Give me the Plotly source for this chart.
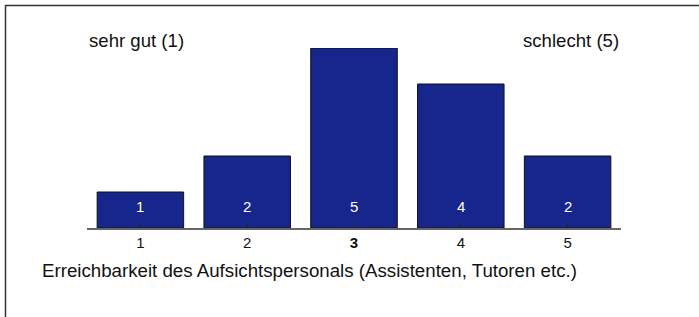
import plotly.graph_objects as go

categories = [1, 2, 3, 4, 5]
tick_labels = ["1", "2", "<b>3</b>", "4", "5"]
counts = [1, 2, 5, 4, 2]
title_text = "Erreichbarkeit des Aufsichtspersonals (Assistenten, Tutoren etc.)"
left_label = "sehr gut (1)"
right_label = "schlecht (5)"

FONT = "Liberation Sans, Arial, sans-serif"

fig = go.Figure()
fig.add_trace(go.Bar(
    x=categories, y=counts, width=0.81,
    marker=dict(color="#16268C", line=dict(color="#111111", width=1)),
    hoverinfo="skip",
))

annotations = []
for c, v in zip(categories, counts):
    annotations.append(dict(x=c, y=0, xref="x", yref="y", text=str(v), showarrow=False,
                            yanchor="middle", yshift=22,
                            font=dict(family=FONT, size=15, color="white")))
annotations += [
    dict(x=0, y=1.044, xref="paper", yref="paper", text=left_label, showarrow=False,
         xanchor="left", yanchor="middle", font=dict(family=FONT, size=18.6, color="#111")),
    dict(x=1, y=1.044, xref="paper", yref="paper", text=right_label, showarrow=False,
         xanchor="right", yanchor="middle", font=dict(family=FONT, size=18.6, color="#111")),
    dict(x=(40 - 87) / 534, y=(228 - 270) / 180, xref="paper", yref="paper", text=title_text,
         showarrow=False, xanchor="left", yanchor="middle",
         font=dict(family=FONT, size=18.7, color="#111")),
]

fig.update_layout(
    width=699, height=317,
    margin=dict(l=87, r=78, t=48, b=89),
    paper_bgcolor="white", plot_bgcolor="white",
    showlegend=False,
    annotations=annotations,
    shapes=[
        dict(type="rect", xref="paper", yref="paper", layer="above",
             x0=(5.5 - 87) / 534, x1=(740 - 87) / 534,
             y0=1 + (48 - 5.5) / 180, y1=(228 - 340) / 180,
             line=dict(color="#333", width=1.5), fillcolor="rgba(0,0,0,0)"),
    ],
)
fig.update_xaxes(
    range=[0.5, 5.5], tickvals=categories, ticktext=tick_labels,
    showline=True, linecolor="#666", linewidth=1.5,
    ticks="inside", ticklen=5, tickcolor="#222", tickwidth=1,
    showgrid=False, zeroline=False,
    tickfont=dict(family=FONT, size=15, color="#111"),
)
fig.update_yaxes(range=[0, 5], visible=False, showgrid=False, zeroline=False)

fig.write_html("out.html", config={"displayModeBar": False},
               post_script="document.body.style.margin='0';document.body.style.overflow='hidden';")
